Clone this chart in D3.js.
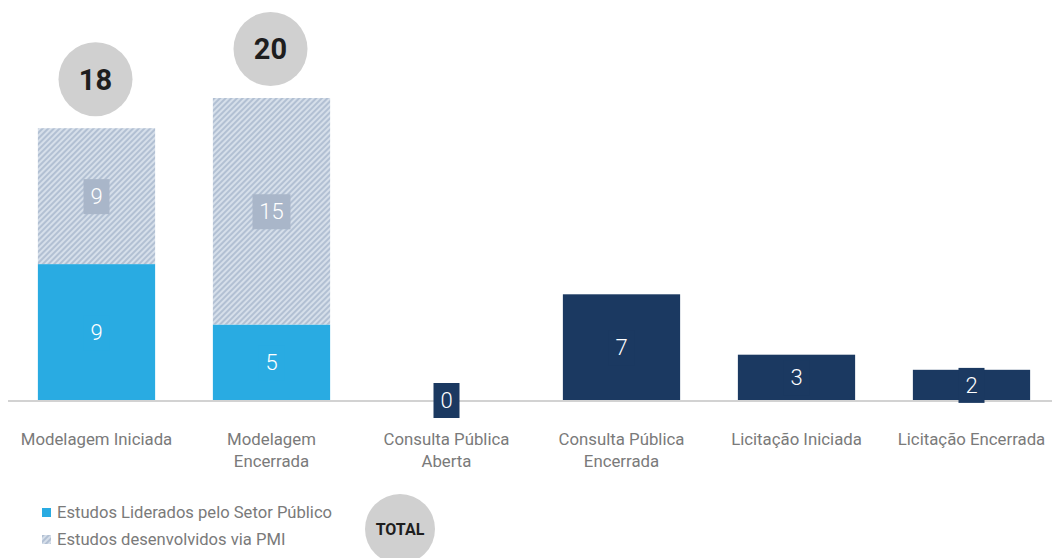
<!DOCTYPE html>
<html>
<head>
<meta charset="utf-8">
<script src="https://cdn.jsdelivr.net/npm/d3@7"></script>
<style>
  body { margin: 0; background: #fff; }
  svg { display: block; font-family: Roboto, "DejaVu Sans", sans-serif; }
</style>
</head>
<body>
<svg id="chart" width="1052" height="558"></svg>
<script>
// chart data
const CATEGORIES = [
  ['Modelagem Iniciada'],
  ['Modelagem', 'Encerrada'],
  ['Consulta Pública', 'Aberta'],
  ['Consulta Pública', 'Encerrada'],
  ['Licitação Iniciada'],
  ['Licitação Encerrada']
];
const PUBLIC_LED = [9, 5, null, null, null, null];
const PMI = [9, 15, null, null, null, null];
const OTHER = [null, null, 0, 7, 3, 2];
const TOTALS = [18, 20, null, null, null, null];
const LEGEND = ['Estudos Liderados pelo Setor Público', 'Estudos desenvolvidos via PMI'];

const BLUE = '#29abe2';
const NAVY = '#1b3961';
const HATCH_BOX = '#a9b6c9';
const CIRCLE = '#d0d0d0';

const svg = d3.select('#chart');

const defs = svg.append('defs');
const pat = defs.append('pattern')
  .attr('id', 'hatch')
  .attr('patternUnits', 'userSpaceOnUse')
  .attr('width', 4)
  .attr('height', 4)
  .attr('patternTransform', 'rotate(45)');
pat.append('rect').attr('width', 4).attr('height', 4).attr('fill', '#d6dfea');
pat.append('rect').attr('width', 2).attr('height', 4).attr('fill', '#b2c0d3');

const x = d3.scaleBand()
  .domain(d3.range(CATEGORIES.length))
  .range([9, 1059])
  .paddingInner(0.33)
  .paddingOuter(0.165);

const y = d3.scaleLinear()
  .domain([0, 20])
  .range([400, 98]);

const bw = x.bandwidth();

// baseline
svg.append('line')
  .attr('x1', 8).attr('x2', 1052)
  .attr('y1', y(0) + 1).attr('y2', y(0) + 1)
  .attr('stroke', '#d2d2d2')
  .attr('stroke-width', 2);

// stacked segments with their value label
const segments = [];
CATEGORIES.forEach((c, i) => {
  if (PUBLIC_LED[i] !== null) {
    segments.push({ i, y0: 0, y1: PUBLIC_LED[i], fill: BLUE, box: BLUE, v: PUBLIC_LED[i] });
    segments.push({ i, y0: PUBLIC_LED[i], y1: PUBLIC_LED[i] + PMI[i], fill: 'url(#hatch)', box: HATCH_BOX, v: PMI[i] });
  }
  if (OTHER[i] !== null) {
    segments.push({ i, y0: 0, y1: OTHER[i], fill: NAVY, box: NAVY, v: OTHER[i] });
  }
});

svg.append('g')
  .selectAll('rect')
  .data(segments)
  .join('rect')
    .attr('x', d => x(d.i))
    .attr('width', bw)
    .attr('y', d => y(d.y1))
    .attr('height', d => y(d.y0) - y(d.y1))
    .attr('fill', d => d.fill);

const labels = svg.append('g')
  .selectAll('g')
  .data(segments)
  .join('g')
    .attr('transform', d => `translate(${x(d.i) + bw / 2},${(y(d.y0) + y(d.y1)) / 2})`);

labels.append('rect')
  .attr('x', d => d.v >= 10 ? -19 : -13)
  .attr('width', d => d.v >= 10 ? 38 : 26)
  .attr('y', -17)
  .attr('height', 35)
  .attr('fill', d => d.box);

labels.append('text')
  .attr('text-anchor', 'middle')
  .attr('dy', '0.36em')
  .attr('fill', '#fff')
  .attr('font-size', 22)
  .attr('font-weight', 300)
  .text(d => d.v);

// totals above the stacked bars
const totals = svg.append('g')
  .selectAll('g')
  .data(TOTALS.map((t, i) => ({ t, i })).filter(d => d.t !== null))
  .join('g')
    .attr('transform', d => `translate(${x(d.i) + bw / 2 - 1},${y(d.t) - 49})`);

totals.append('circle').attr('r', 37).attr('fill', CIRCLE);
totals.append('text')
  .attr('text-anchor', 'middle')
  .attr('dy', '0.36em')
  .attr('font-size', 29)
  .attr('font-weight', 700)
  .attr('fill', '#1e1e1e')
  .attr('font-family', '"Liberation Sans Narrow", Roboto, sans-serif')
  .text(d => d.t);

// category labels
svg.append('g')
  .selectAll('text')
  .data(CATEGORIES)
  .join('text')
    .attr('x', (d, i) => x(i) + bw / 2)
    .attr('y', 445)
    .attr('text-anchor', 'middle')
    .attr('font-size', 16.8)
    .attr('fill', '#7a7a7a')
    .selectAll('tspan')
    .data(d => d)
    .join('tspan')
      .attr('x', function () { return this.parentNode.getAttribute('x'); })
      .attr('dy', (d, j) => j === 0 ? 0 : 22)
      .text(d => d);

// legend
const legend = svg.append('g')
  .selectAll('g')
  .data(LEGEND)
  .join('g')
    .attr('transform', (d, i) => `translate(42,${508 + i * 27})`);

legend.append('rect')
  .attr('width', 9).attr('height', 9)
  .attr('fill', (d, i) => i === 0 ? BLUE : 'url(#hatch)');

legend.append('text')
  .attr('x', 15)
  .attr('y', 10)
  .attr('font-size', 16.6)
  .attr('fill', '#7a7a7a')
  .text(d => d);

// total badge
const badge = svg.append('g').attr('transform', 'translate(400,529)');
badge.append('circle').attr('r', 35).attr('fill', CIRCLE);
badge.append('text')
  .attr('text-anchor', 'middle')
  .attr('dy', '0.36em')
  .attr('font-size', 16)
  .attr('font-weight', 700)
  .attr('fill', '#1e1e1e')
  .attr('font-family', '"Liberation Sans Narrow", Roboto, sans-serif')
  .text('TOTAL');
</script>
</body>
</html>
